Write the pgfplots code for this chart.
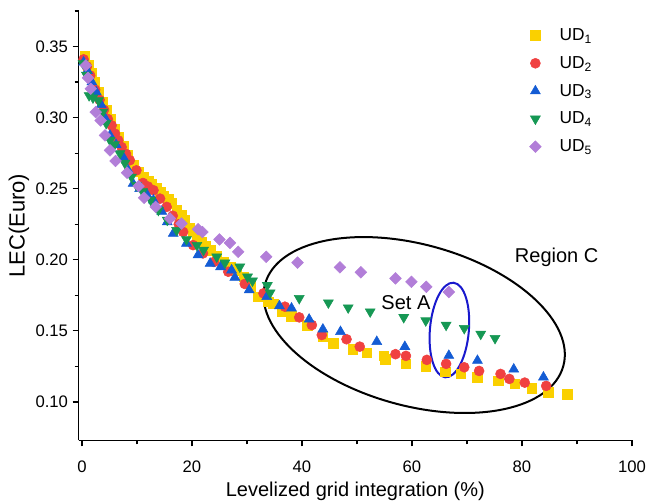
\documentclass[border=0pt]{standalone}
\usepackage{pgfplots}
\pgfplotsset{compat=1.18}
\usepackage{fontspec}
\setmainfont{Liberation Sans}
\definecolor{cyel}{RGB}{250,208,0}
\definecolor{cred}{RGB}{240,65,65}
\definecolor{cblue}{RGB}{20,92,212}
\definecolor{cgreen}{RGB}{22,152,84}
\definecolor{cpurp}{RGB}{178,126,216}
\definecolor{cell}{RGB}{25,25,205}
\begin{document}
\begin{tikzpicture}
\useasboundingbox (-59pt,-46.2pt) rectangle (425.5pt,330.25pt);
\begin{axis}[
 at={(0,0)}, anchor=south west,
 scale only axis, width=415pt, height=322pt,
 xmin=-0.6, xmax=100, ymin=0.073, ymax=0.375,
 axis lines*=left, axis line style={line width=1pt,-},
 tick align=outside, major tick length=4.5pt, minor tick length=3pt,
 tick style={black, line width=0.9pt},
 xtick={0,20,...,100}, minor xtick={10,30,50,70,90},
 ytick={0.10,0.15,0.20,0.25,0.30,0.35},
 minor ytick={0.125,0.175,0.225,0.275,0.325,0.375},
 yticklabel style={/pgf/number format/fixed, /pgf/number format/fixed zerofill, /pgf/number format/precision=2},
 xticklabel style={yshift=-7pt},
 /pgf/number format/assume math mode=true,
 ticklabel style={font=\fontsize{12.5}{14}\selectfont},
 xlabel={Levelized grid integration (\%)},
 ylabel={LEC(Euro)},
 label style={font=\fontsize{15}{18}\selectfont},
 x label style={at={(axis description cs:0.5,0)}, anchor=center, yshift=-38.5pt},
 y label style={at={(axis description cs:0,0.5)}, anchor=center, yshift=44.8pt, font=\fontsize{16.5}{19}\selectfont},
 legend style={at={(rel axis cs:0.81,0.966)}, anchor=north west, draw=none, fill=none,
   font=\fontsize{13}{15}\selectfont, row sep=6.4pt, inner sep=0pt},
 legend cell align=left,
 legend image code/.code={\path (0pt,0pt) (22pt,0pt); \draw[#1] plot coordinates {(6pt,0pt)};},
]
\addplot[only marks, mark=square*, mark size=3.6pt, draw=cyel, fill=cyel] coordinates {
(0.5,0.343) (1.1,0.337) (1.7,0.331) (2.3,0.325) (3.0,0.318) (3.7,0.311) (4.4,0.305) (5.1,0.299)
(5.9,0.292) (6.7,0.286) (7.5,0.280) (8.3,0.274) (9.3,0.2665) (10.2,0.2618) (11.1,0.2583) (12.0,0.2555)
(12.7,0.2536) (13.5,0.2505) (14.2,0.2477) (14.9,0.2445) (15.7,0.2425) (16.3,0.2396) (17.2,0.2349)
(18.0,0.2312) (18.7,0.2278) (19.6,0.2225) (20.2,0.2200) (20.9,0.2161) (21.8,0.2126) (22.5,0.2095)
(23.3,0.2068) (24.5,0.2025) (25.7,0.1986) (27.0,0.1950) (28.1,0.1927) (29.4,0.1880) (30.7,0.1815)
(32.1,0.1740) (33.9,0.1705) (34.8,0.1690) (36.3,0.1635) (38.1,0.1604) (41.0,0.1541) (43.8,0.1459)
(45.7,0.1413) (49.2,0.1371) (51.8,0.1347) (54.9,0.1324) (55.1,0.1300) (58.9,0.1268) (62.5,0.1253)
(66.0,0.1213) (68.9,0.1197) (71.9,0.1174) (75.7,0.1150) (78.7,0.1127) (81.8,0.1097) (84.8,0.1069)
(88.2,0.1055)};
\addlegendentry{UD\textsubscript{1}}
\addplot[only marks, mark=*, mark size=3.75pt, draw=cred, fill=cred] coordinates {
(0.3,0.341) (0.9,0.336) (1.5,0.3296) (2.4,0.3196) (3.2,0.3125) (4.0,0.3055) (4.7,0.2990) (5.4,0.2945)
(6.0,0.2887) (6.6,0.2840) (7.2,0.2793) (8.0,0.2745) (8.7,0.2700) (9.9,0.2629) (11.1,0.2540) (12.0,0.2515)
(13.0,0.2489) (14.2,0.2430) (15.4,0.2372) (16.5,0.2310) (17.6,0.2250) (18.4,0.2196) (20.2,0.2103)
(22.0,0.2045) (24.0,0.1985) (26.6,0.1916) (29.6,0.1830) (33.0,0.1764) (36.9,0.1670) (39.5,0.1595)
(41.8,0.1541) (43.6,0.1471) (48.1,0.1441) (50.5,0.1389) (57.0,0.1336) (58.9,0.1324) (62.7,0.1296)
(66.2,0.1268) (69.5,0.1244) (72.2,0.1218) (76.1,0.1197) (77.7,0.1162) (80.5,0.1136) (84.4,0.1113)};
\addlegendentry{UD\textsubscript{2}}
\addplot[only marks, mark=triangle*, mark size=4.3pt, draw=cblue, fill=cblue] coordinates {
(0.3,0.339) (1.0,0.333) (1.8,0.325) (2.6,0.318) (3.5,0.309) (4.3,0.299) (5.1,0.2875) (6.2,0.2810)
(7.5,0.2722) (8.4,0.2630) (9.3,0.2536) (10.5,0.2500) (11.8,0.2460) (13.0,0.2419) (14.5,0.2340)
(15.5,0.2265) (16.6,0.2185) (19.0,0.2115) (21.1,0.2033) (23.3,0.1974) (25.2,0.1950) (27.2,0.1927)
(27.8,0.1876) (30.4,0.1787) (33.6,0.1740) (35.9,0.1675) (38.1,0.1659) (41.3,0.1581) (43.8,0.1511)
(47.0,0.1494) (53.6,0.1424) (58.7,0.1389) (66.7,0.1326) (71.9,0.1291) (78.5,0.1230) (83.9,0.1174)};
\addlegendentry{UD\textsubscript{3}}
\addplot[only marks, mark=triangle*, mark size=4.3pt, mark options={rotate=180}, draw=cgreen, fill=cgreen] coordinates {
(0.2,0.338) (0.8,0.330) (1.3,0.3156) (2.0,0.3140) (3.0,0.3120) (3.8,0.3040) (4.4,0.2960) (5.1,0.2840)
(5.9,0.2810) (6.9,0.2747) (7.8,0.2680) (9.0,0.2583) (9.9,0.2524) (11.0,0.2480) (12.5,0.2420)
(13.9,0.2349) (15.5,0.2280) (17.2,0.2208) (19.0,0.2143) (20.9,0.2103) (22.1,0.2068) (24.5,0.2021)
(26.0,0.1979) (28.7,0.1951) (30.1,0.1880) (31.0,0.1852) (33.7,0.1820) (34.2,0.1768) (39.5,0.1729)
(44.8,0.1698) (48.4,0.1663) (52.4,0.1635) (58.5,0.1595) (62.5,0.1572) (66.2,0.1541) (69.5,0.1518)
(72.5,0.1478) (75.1,0.1448)};
\addlegendentry{UD\textsubscript{4}}
\addplot[only marks, mark=square*, mark size=3.1pt, mark options={rotate=45}, draw=cpurp, fill=cpurp] coordinates {
(0.7,0.3367) (1.1,0.3280) (1.6,0.3203) (2.5,0.3039) (3.4,0.2980) (4.2,0.2875) (5.1,0.2770) (6.1,0.2695)
(8.2,0.2612) (10.3,0.2518) (11.3,0.2436) (13.4,0.2372) (16.0,0.2290) (18.1,0.2255) (21.1,0.2215)
(21.9,0.2195) (25.0,0.2143) (26.9,0.2119) (28.4,0.2056) (33.5,0.2021) (39.2,0.1980) (46.9,0.1947)
(50.7,0.1912) (57.0,0.1869) (59.9,0.1845) (62.6,0.1810) (66.7,0.1773)};
\addlegendentry{UD\textsubscript{5}}
\draw[black, line width=1.5pt, rotate around={-15.4:(axis cs:60.4,0.1541)}]
  (axis cs:60.4,0.1541) ellipse [x radius=116pt, y radius=60.5pt];
\draw[cell, line width=1.5pt, rotate around={-5:(axis cs:66.8,0.1506)}]
  (axis cs:66.8,0.1506) ellipse [x radius=14.6pt, y radius=35.6pt];
\node[font=\fontsize{15}{18}\selectfont] at (axis cs:58.9,0.170) {Set A};
\node[font=\fontsize{15}{18}\selectfont] at (axis cs:86.3,0.202) {Region C};
\end{axis}
\end{tikzpicture}
\end{document}
